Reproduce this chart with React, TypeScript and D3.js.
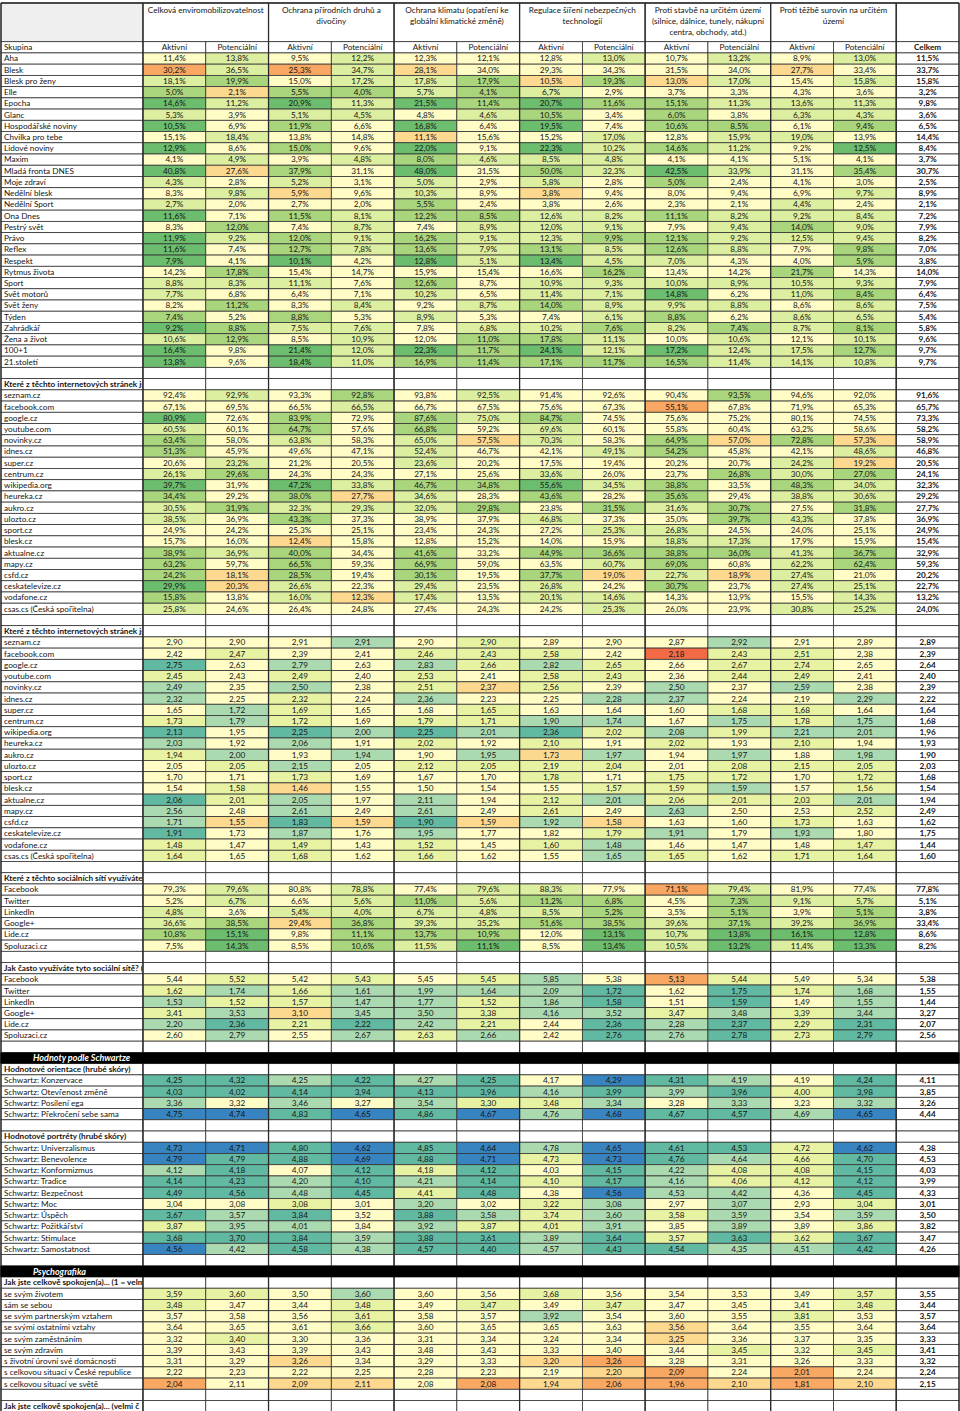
import React from "react";
import * as d3 from "d3";

// ---------- header texts ----------
const groupTitles: string[][] = [
  ["Celková enviromobilizovatelnost"],
  ["Ochrana přírodních druhů a", "divočiny"],
  ["Ochrana klimatu (opatření ke", "globální klimatické změně)"],
  ["Regulace šíření nebezpečných", "technologií"],
  ["Proti stavbě na určitém území", "(silnice, dálnice, tunely, nákupní", "centra, obchody, atd.)"],
  ["Proti těžbě surovin na určitém", "území"],
];
const subHeaders = ["Aktivní", "Potenciální"];
const totalHeader = "Celkem";
const firstHeader = "Skupina";

// ---------- magazines (% ) ----------
const magazineLabels = ["Aha", "Blesk", "Blesk pro ženy", "Elle", "Epocha", "Glanc", "Hospodářské noviny", "Chvilka pro tebe", "Lidové noviny", "Maxim", "Mladá fronta DNES", "Moje zdraví", "Nedělní blesk", "Nedělní Sport", "Ona Dnes", "Pestrý svět", "Právo", "Reflex", "Respekt", "Rytmus života", "Sport", "Svět motorů", "Svět ženy", "Týden", "Zahrádkář", "Žena a život", "100+1", "21.století"];
const magazineValues = [
  [11.4, 13.8, 9.5, 12.2, 12.3, 12.1, 12.8, 13.0, 10.7, 13.2, 8.9, 13.0],
  [30.2, 36.5, 25.3, 34.7, 28.1, 34.0, 29.3, 34.3, 31.5, 34.0, 27.7, 33.4],
  [18.1, 19.9, 15.0, 17.2, 17.8, 17.9, 10.5, 19.3, 13.0, 17.0, 15.4, 15.8],
  [5.0, 2.1, 5.5, 4.0, 5.7, 4.1, 6.7, 2.9, 3.7, 3.3, 4.3, 3.6],
  [14.6, 11.2, 20.9, 11.3, 21.5, 11.4, 20.7, 11.6, 15.1, 11.3, 13.6, 11.3],
  [5.3, 3.9, 5.1, 4.5, 4.8, 4.6, 10.5, 3.4, 6.0, 3.8, 6.3, 4.3],
  [10.5, 6.9, 11.9, 6.6, 16.8, 6.4, 19.5, 7.4, 10.6, 8.5, 6.1, 9.4],
  [15.1, 18.4, 13.8, 14.8, 11.1, 15.6, 15.2, 17.0, 12.8, 15.9, 19.0, 13.9],
  [12.9, 8.6, 15.0, 9.6, 22.0, 9.1, 22.3, 10.2, 14.6, 11.2, 9.2, 12.5],
  [4.1, 4.9, 3.9, 4.8, 8.0, 4.6, 8.5, 4.8, 4.1, 4.1, 5.1, 4.1],
  [40.8, 27.6, 37.9, 31.1, 48.0, 31.5, 50.0, 32.3, 42.5, 33.9, 31.1, 35.4],
  [4.3, 2.8, 5.2, 3.1, 5.0, 2.9, 5.8, 2.8, 5.0, 2.4, 4.1, 3.0],
  [8.3, 9.8, 5.9, 9.6, 10.3, 8.9, 3.8, 9.4, 8.0, 9.4, 6.9, 9.7],
  [2.7, 2.0, 2.7, 2.0, 5.5, 2.4, 3.8, 2.6, 2.3, 2.1, 4.4, 2.4],
  [11.6, 7.1, 11.5, 8.1, 12.2, 8.5, 12.6, 8.2, 11.1, 8.2, 9.2, 8.4],
  [8.3, 12.0, 7.4, 8.7, 7.4, 8.9, 12.0, 9.1, 7.9, 9.4, 14.0, 9.0],
  [11.9, 9.2, 12.0, 9.1, 16.2, 9.1, 12.3, 9.9, 12.1, 9.2, 12.5, 9.4],
  [11.6, 7.4, 12.7, 7.8, 13.6, 7.9, 13.1, 8.5, 12.6, 8.8, 7.9, 9.8],
  [7.9, 4.1, 10.1, 4.2, 12.8, 5.1, 13.4, 4.5, 7.0, 4.3, 4.0, 5.9],
  [14.2, 17.8, 15.4, 14.7, 15.9, 15.4, 16.6, 16.2, 13.4, 14.2, 21.7, 14.3],
  [8.8, 8.3, 11.1, 7.6, 12.6, 8.7, 10.9, 9.3, 10.0, 8.9, 10.5, 9.3],
  [7.7, 6.8, 6.4, 7.1, 10.2, 6.5, 11.4, 7.1, 14.8, 6.2, 11.0, 8.4],
  [8.2, 11.2, 8.3, 8.4, 9.2, 8.7, 14.0, 8.9, 9.9, 8.8, 8.6, 8.6],
  [7.4, 5.2, 8.8, 5.3, 8.9, 5.3, 7.4, 6.1, 8.8, 6.2, 8.6, 6.5],
  [9.2, 8.8, 7.5, 7.6, 7.8, 6.8, 10.2, 7.6, 8.2, 7.4, 8.7, 8.1],
  [10.6, 12.9, 8.5, 10.9, 12.0, 11.0, 17.8, 11.1, 10.0, 10.6, 12.1, 10.1],
  [16.4, 9.8, 21.4, 12.0, 22.3, 11.7, 24.1, 12.1, 17.2, 12.4, 17.5, 12.7],
  [13.8, 9.6, 18.4, 11.0, 16.9, 11.4, 17.1, 11.7, 16.5, 11.4, 14.1, 10.8],
];
const magazineTotals = [11.5, 33.7, 15.8, 3.2, 9.8, 3.6, 6.5, 14.4, 8.4, 3.7, 30.7, 2.5, 8.9, 2.1, 7.2, 7.9, 8.2, 7.0, 3.8, 14.0, 7.9, 6.4, 7.5, 5.4, 5.8, 9.6, 9.7, 9.7];
// signed deviation grade vs. Celkem (drives the cell colour)
const magazineSignificance = [
  [0, 1, 0, 1, 0, 0, 0, 1, 0, 1, 0, 1],
  [-2, 1, -2, 1, -1, 0, 0, 0, 0, 0, -1, 0],
  [1, 2, 0, 1, 1, 2, -1, 2, -1, 1, 0, 1],
  [2, -1, 2, 2, 1, 2, 1, 0, 0, 0, 0, 0],
  [3, 1, 3, 1, 3, 2, 3, 2, 2, 1, 1, 1],
  [1, 0, 1, 1, 0, 1, 2, 0, 2, 0, 1, 1],
  [3, 0, 2, 0, 3, 0, 3, 0, 2, 2, 0, 2],
  [0, 1, 0, 0, -1, 0, 0, 1, 0, 1, 1, 0],
  [3, 0, 2, 0, 3, 0, 3, 1, 2, 1, 0, 3],
  [0, 1, 0, 1, 2, 1, 1, 1, 0, 0, 0, 0],
  [3, -1, 2, 0, 3, 0, 2, 1, 3, 1, 0, 2],
  [1, 0, 1, 0, 1, 0, 1, 0, 2, 0, 0, 0],
  [0, 1, -1, 0, 1, 0, -1, 0, 0, 0, 0, 1],
  [1, 0, 0, 0, 2, 0, 0, 0, 0, 0, 1, 0],
  [3, 0, 2, 1, 2, 2, 1, 1, 2, 1, 1, 1],
  [0, 2, 0, 1, 0, 1, 1, 1, 0, 1, 2, 1],
  [3, 1, 2, 1, 2, 1, 1, 2, 2, 1, 1, 1],
  [3, 0, 2, 1, 2, 1, 2, 1, 2, 1, 0, 2],
  [3, 0, 3, 0, 3, 1, 3, 1, 1, 0, 0, 2],
  [0, 2, 0, 0, 0, 0, 0, 2, 0, 0, 2, 0],
  [1, 1, 1, 0, 2, 0, 1, 1, 1, 1, 1, 1],
  [1, 0, 0, 0, 1, 0, 1, 1, 3, 0, 1, 2],
  [0, 2, 0, 1, 0, 1, 2, 1, 1, 1, 0, 1],
  [2, 0, 2, 0, 1, 0, 0, 1, 2, 0, 1, 1],
  [3, 2, 1, 1, 0, 1, 1, 2, 1, 2, 1, 2],
  [1, 2, 0, 1, 0, 2, 2, 1, 0, 1, 0, 1],
  [3, 0, 3, 1, 3, 2, 3, 1, 3, 1, 1, 2],
  [3, 0, 3, 1, 2, 2, 2, 2, 2, 1, 1, 1],
];

// ---------- websites ----------
const siteLabels = ["seznam.cz", "facebook.com", "google.cz", "youtube.com", "novinky.cz", "idnes.cz", "super.cz", "centrum.cz", "wikipedia.org", "heureka.cz", "aukro.cz", "ulozto.cz", "sport.cz", "blesk.cz", "aktualne.cz", "mapy.cz", "csfd.cz", "ceskatelevize.cz", "vodafone.cz", "csas.cs (Česká spořitelna)"];
const siteVisitValues = [
  [92.4, 92.9, 93.3, 92.8, 93.8, 92.5, 91.4, 92.6, 90.4, 93.5, 94.6, 92.0],
  [67.1, 69.5, 66.5, 66.5, 66.7, 67.5, 75.6, 67.3, 55.1, 67.8, 71.9, 65.3],
  [80.9, 72.6, 83.9, 72.9, 87.6, 75.0, 84.7, 74.5, 75.6, 75.2, 80.1, 74.5],
  [60.5, 60.1, 64.7, 57.6, 66.8, 59.2, 69.6, 60.1, 55.8, 60.4, 63.2, 58.6],
  [63.4, 58.0, 63.8, 58.3, 65.0, 57.5, 70.3, 58.3, 64.9, 57.0, 72.8, 57.3],
  [51.3, 45.9, 49.6, 47.1, 52.4, 46.7, 42.1, 49.1, 54.2, 45.8, 42.1, 48.6],
  [20.6, 23.2, 21.2, 20.5, 23.6, 20.2, 17.5, 19.4, 20.2, 20.7, 24.2, 19.2],
  [26.1, 29.6, 24.3, 24.3, 27.1, 25.6, 33.6, 26.0, 23.7, 26.8, 30.0, 27.0],
  [39.7, 31.9, 47.2, 33.8, 46.7, 34.8, 55.6, 34.5, 38.8, 33.5, 48.3, 34.0],
  [34.4, 29.2, 38.0, 27.7, 34.6, 28.3, 43.6, 28.2, 35.6, 29.4, 38.8, 30.6],
  [30.5, 31.9, 32.3, 29.3, 32.0, 29.8, 23.8, 31.5, 31.6, 30.7, 27.5, 31.8],
  [38.5, 36.9, 43.3, 37.3, 38.9, 37.9, 46.8, 37.3, 35.0, 39.7, 43.3, 37.8],
  [24.9, 24.2, 25.3, 25.1, 23.4, 24.3, 27.2, 25.3, 26.8, 24.5, 24.0, 25.1],
  [15.7, 16.0, 12.4, 15.8, 12.8, 15.2, 14.0, 15.9, 18.8, 17.3, 17.9, 15.9],
  [38.9, 36.9, 40.0, 34.4, 41.6, 33.2, 44.9, 36.6, 38.8, 36.0, 41.3, 36.7],
  [63.2, 59.7, 66.5, 59.3, 66.9, 59.0, 63.5, 60.7, 69.0, 60.8, 62.2, 62.4],
  [24.2, 18.1, 28.5, 19.4, 30.1, 19.5, 37.7, 19.0, 22.7, 18.9, 27.4, 21.0],
  [29.9, 20.3, 26.6, 22.3, 29.4, 23.5, 26.8, 24.2, 30.7, 23.7, 27.4, 25.1],
  [15.8, 13.8, 16.0, 12.3, 17.4, 13.5, 20.1, 14.6, 14.3, 13.9, 15.5, 14.3],
  [25.8, 24.6, 26.4, 24.8, 27.4, 24.3, 24.2, 25.3, 26.0, 23.9, 30.8, 25.2],
];
const siteVisitTotals = [91.6, 65.7, 73.3, 58.2, 58.9, 46.8, 20.5, 24.1, 32.3, 29.2, 27.7, 36.9, 24.9, 15.4, 32.9, 59.3, 20.2, 22.7, 13.2, 24.0];
const siteVisitSignificance = [
  [0, 1, 0, 2, 0, 1, 0, 0, 0, 2, 0, 0],
  [0, 0, 0, 1, 0, 0, 0, 0, -2, 0, 0, 0],
  [3, 0, 2, 0, 2, 1, 2, 0, 0, 0, 0, 0],
  [1, 0, 2, 0, 2, 0, 1, 0, 0, 0, 0, 0],
  [2, 0, 1, 0, 1, -1, 1, 0, 2, -1, 2, -1],
  [2, 0, 0, 0, 1, 0, 0, 1, 2, 0, 0, 1],
  [0, 1, 0, 0, 1, 0, 0, 0, 0, 0, 1, -1],
  [1, 2, 0, 0, 0, 0, 1, 0, 0, 2, 1, 2],
  [3, 0, 3, 1, 2, 2, 3, 1, 2, 0, 2, 1],
  [2, 0, 2, -1, 1, 0, 2, 0, 2, 0, 1, 1],
  [1, 2, 1, 1, 1, 2, 0, 2, 1, 2, 0, 2],
  [1, 0, 2, 0, 0, 0, 1, 0, 0, 2, 1, 0],
  [0, 0, 0, 0, 0, 0, 0, 1, 1, 0, 0, 0],
  [0, 0, -1, 0, 0, 0, 0, 0, 1, 1, 0, 0],
  [2, 1, 2, 0, 2, 0, 2, 2, 2, 2, 1, 2],
  [2, 0, 2, 0, 2, 0, 0, 1, 2, 0, 1, 2],
  [2, -1, 2, 0, 2, 0, 2, -1, 1, -1, 1, 0],
  [3, -1, 1, 0, 1, 0, 1, 0, 2, 0, 1, 1],
  [2, 0, 1, -1, 1, 0, 1, 1, 0, 0, 0, 1],
  [1, 0, 0, 0, 0, 0, 0, 1, 0, 0, 1, 1],
];
const siteScoreValues = [
  [2.90, 2.90, 2.91, 2.91, 2.90, 2.90, 2.89, 2.90, 2.87, 2.92, 2.91, 2.89],
  [2.42, 2.47, 2.39, 2.41, 2.46, 2.43, 2.58, 2.42, 2.18, 2.43, 2.51, 2.38],
  [2.75, 2.63, 2.79, 2.63, 2.83, 2.66, 2.82, 2.65, 2.66, 2.67, 2.74, 2.65],
  [2.45, 2.43, 2.49, 2.40, 2.53, 2.41, 2.58, 2.43, 2.36, 2.44, 2.49, 2.41],
  [2.49, 2.35, 2.50, 2.38, 2.51, 2.37, 2.56, 2.39, 2.50, 2.37, 2.59, 2.38],
  [2.32, 2.25, 2.32, 2.24, 2.36, 2.23, 2.25, 2.28, 2.37, 2.24, 2.19, 2.29],
  [1.65, 1.72, 1.69, 1.65, 1.68, 1.65, 1.63, 1.64, 1.60, 1.68, 1.68, 1.64],
  [1.73, 1.79, 1.72, 1.69, 1.79, 1.71, 1.90, 1.74, 1.67, 1.75, 1.78, 1.75],
  [2.13, 1.95, 2.25, 2.00, 2.25, 2.01, 2.36, 2.02, 2.08, 1.99, 2.21, 2.01],
  [2.03, 1.92, 2.06, 1.91, 2.02, 1.92, 2.10, 1.91, 2.02, 1.93, 2.10, 1.94],
  [1.94, 2.00, 1.93, 1.94, 1.90, 1.95, 1.73, 1.97, 1.94, 1.97, 1.88, 1.98],
  [2.05, 2.05, 2.15, 2.05, 2.12, 2.05, 2.19, 2.04, 2.01, 2.08, 2.15, 2.05],
  [1.70, 1.71, 1.73, 1.69, 1.67, 1.70, 1.78, 1.71, 1.75, 1.72, 1.70, 1.72],
  [1.54, 1.58, 1.46, 1.55, 1.50, 1.54, 1.55, 1.57, 1.59, 1.59, 1.57, 1.56],
  [2.06, 2.01, 2.05, 1.97, 2.11, 1.94, 2.12, 2.01, 2.06, 2.01, 2.03, 2.01],
  [2.56, 2.48, 2.61, 2.49, 2.61, 2.49, 2.61, 2.49, 2.63, 2.50, 2.53, 2.52],
  [1.71, 1.55, 1.83, 1.59, 1.90, 1.59, 1.92, 1.58, 1.63, 1.60, 1.73, 1.63],
  [1.91, 1.73, 1.87, 1.76, 1.95, 1.77, 1.82, 1.79, 1.91, 1.79, 1.93, 1.80],
  [1.48, 1.47, 1.49, 1.43, 1.52, 1.45, 1.60, 1.48, 1.46, 1.47, 1.48, 1.47],
  [1.64, 1.65, 1.68, 1.62, 1.66, 1.62, 1.55, 1.65, 1.65, 1.62, 1.71, 1.64],
];
const siteScoreTotals = [2.89, 2.39, 2.64, 2.40, 2.39, 2.22, 1.64, 1.68, 1.96, 1.93, 1.90, 2.03, 1.68, 1.54, 1.94, 2.49, 1.62, 1.75, 1.44, 1.60];
const siteScoreSignificance = [
  [0, 0, 0, 2, 0, 1, 0, 0, 0, 2, 0, 0],
  [0, 1, 0, 0, 1, 1, 1, 0, -3, 1, 1, 0],
  [3, 0, 2, 0, 2, 1, 2, 1, 0, 1, 1, 0],
  [1, 0, 1, 0, 1, 0, 1, 1, 0, 1, 1, 0],
  [2, 0, 2, 0, 1, -1, 1, 0, 2, 0, 2, 0],
  [2, 0, 1, 0, 2, 0, 0, 2, 2, 0, 0, 2],
  [0, 2, 1, 0, 0, 1, 0, 0, 0, 1, 1, 0],
  [1, 2, 1, 0, 1, 1, 2, 2, 0, 2, 1, 2],
  [3, 0, 3, 2, 3, 2, 3, 1, 2, 1, 2, 2],
  [2, 0, 2, 0, 1, 0, 1, 0, 1, 0, 1, 0],
  [1, 2, 0, 2, 0, 2, -1, 2, 0, 2, 0, 2],
  [0, 1, 2, 0, 1, 1, 1, 1, 0, 1, 1, 1],
  [0, 0, 1, 0, 0, 0, 1, 0, 1, 1, 0, 1],
  [0, 1, -1, 0, 0, 0, 0, 1, 1, 2, 0, 1],
  [3, 1, 2, 0, 2, 0, 1, 2, 1, 1, 1, 2],
  [2, 0, 2, 0, 2, 0, 1, 0, 2, 0, 0, 1],
  [2, -1, 3, -1, 3, -1, 2, -1, 0, 0, 1, 0],
  [3, 0, 2, 0, 2, 0, 0, 1, 2, 0, 2, 0],
  [1, 0, 1, 0, 1, 0, 1, 2, 0, 0, 0, 1],
  [1, 0, 1, 0, 1, 0, 0, 2, 1, 0, 1, 1],
];

// ---------- social networks ----------
const socialLabels = ["Facebook", "Twitter", "LinkedIn", "Google+", "Lide.cz", "Spoluzaci.cz"];
const socialUseValues = [
  [79.3, 79.6, 80.8, 78.8, 77.4, 79.6, 88.3, 77.9, 71.1, 79.4, 81.9, 77.4],
  [5.2, 6.7, 6.6, 5.6, 11.0, 5.6, 11.2, 6.8, 4.5, 7.3, 9.1, 5.7],
  [4.8, 3.6, 5.4, 4.0, 6.7, 4.8, 8.5, 5.2, 3.5, 5.1, 3.9, 5.1],
  [36.6, 38.5, 29.4, 36.8, 39.3, 35.2, 51.6, 38.5, 39.6, 37.1, 39.2, 36.9],
  [10.8, 15.1, 9.8, 11.1, 13.7, 10.9, 12.0, 13.1, 10.7, 13.8, 16.1, 12.8],
  [7.5, 14.3, 8.5, 10.6, 11.5, 11.1, 8.5, 13.4, 10.5, 13.2, 11.4, 13.3],
];
const socialUseTotals = [77.8, 5.1, 3.8, 33.4, 8.6, 8.2];
const socialUseSignificance = [
  [0, 1, 0, 1, 0, 1, 1, 0, -2, 1, 0, 0],
  [0, 1, 0, 1, 2, 1, 2, 2, 0, 2, 1, 1],
  [1, 0, 1, 1, 1, 1, 1, 2, 0, 2, 0, 2],
  [1, 2, -1, 2, 1, 1, 2, 2, 1, 2, 1, 2],
  [2, 3, 0, 2, 2, 2, 0, 3, 1, 3, 3, 3],
  [0, 3, 0, 2, 1, 3, 0, 3, 1, 3, 1, 3],
];
const socialFreqValues = [
  [5.44, 5.52, 5.42, 5.43, 5.45, 5.45, 5.85, 5.38, 5.13, 5.44, 5.49, 5.34],
  [1.62, 1.74, 1.66, 1.61, 1.99, 1.64, 2.09, 1.72, 1.62, 1.75, 1.74, 1.68],
  [1.53, 1.52, 1.57, 1.47, 1.77, 1.52, 1.86, 1.58, 1.51, 1.59, 1.49, 1.55],
  [3.41, 3.53, 3.10, 3.45, 3.50, 3.38, 4.16, 3.52, 3.47, 3.48, 3.39, 3.44],
  [2.20, 2.36, 2.21, 2.22, 2.42, 2.21, 2.44, 2.36, 2.28, 2.37, 2.29, 2.31],
  [2.60, 2.79, 2.55, 2.67, 2.63, 2.66, 2.42, 2.76, 2.76, 2.78, 2.73, 2.79],
];
const socialFreqTotals = [5.38, 1.55, 1.44, 3.27, 2.07, 2.56];
const socialFreqSignificance = [
  [0, 1, 0, 1, 0, 1, 2, 0, -2, 1, 0, 0],
  [1, 2, 1, 2, 2, 2, 2, 3, 0, 3, 1, 2],
  [2, 1, 1, 2, 2, 1, 2, 3, 0, 3, 0, 2],
  [1, 2, -1, 2, 2, 1, 2, 2, 1, 2, 1, 2],
  [2, 3, 1, 3, 2, 1, 0, 3, 2, 3, 1, 3],
  [0, 2, 0, 2, 1, 2, 0, 3, 2, 3, 1, 3],
];

// ---------- Schwartz ----------
const orientationLabels = ["Schwartz: Konzervace", "Schwartz: Otevřenost změně", "Schwartz: Posílení ega", "Schwartz: Překročení sebe sama"];
const orientationValues = [
  [4.25, 4.32, 4.25, 4.22, 4.27, 4.25, 4.17, 4.29, 4.31, 4.19, 4.19, 4.24],
  [4.03, 4.02, 4.14, 3.94, 4.13, 3.96, 4.16, 3.99, 3.99, 3.96, 4.00, 3.98],
  [3.36, 3.32, 3.46, 3.27, 3.54, 3.30, 3.48, 3.34, 3.28, 3.33, 3.23, 3.32],
  [4.75, 4.74, 4.83, 4.65, 4.86, 4.67, 4.76, 4.68, 4.67, 4.57, 4.69, 4.65],
];
const orientationTotals = [4.11, 3.85, 3.26, 4.44];
const orientationSignificance = [
  [3, 3, 2, 3, 2, 3, 0, 4, 3, 2, 0, 3],
  [3, 3, 3, 3, 3, 3, 2, 3, 2, 3, 1, 3],
  [2, 0, 2, 0, 2, 1, 1, 2, 0, 2, 0, 2],
  [4, 4, 3, 4, 3, 4, 2, 4, 3, 3, 2, 4],
];
const portraitLabels = ["Schwartz: Univerzalismus", "Schwartz: Benevolence", "Schwartz: Konformizmus", "Schwartz: Tradice", "Schwartz: Bezpečnost", "Schwartz: Moc", "Schwartz: Úspěch", "Schwartz: Požitkářství", "Schwartz: Stimulace", "Schwartz: Samostatnost"];
const portraitValues = [
  [4.73, 4.71, 4.80, 4.62, 4.85, 4.64, 4.78, 4.65, 4.61, 4.53, 4.72, 4.62],
  [4.79, 4.79, 4.88, 4.69, 4.88, 4.71, 4.73, 4.73, 4.76, 4.64, 4.66, 4.70],
  [4.12, 4.18, 4.07, 4.12, 4.18, 4.12, 4.03, 4.15, 4.22, 4.08, 4.08, 4.15],
  [4.14, 4.23, 4.20, 4.10, 4.21, 4.14, 4.10, 4.17, 4.16, 4.06, 4.12, 4.12],
  [4.49, 4.56, 4.48, 4.45, 4.41, 4.48, 4.38, 4.56, 4.53, 4.42, 4.36, 4.45],
  [3.04, 3.08, 3.08, 3.01, 3.20, 3.02, 3.22, 3.08, 2.97, 3.07, 2.93, 3.04],
  [3.67, 3.57, 3.84, 3.52, 3.88, 3.58, 3.74, 3.60, 3.58, 3.59, 3.54, 3.59],
  [3.87, 3.95, 4.01, 3.84, 3.92, 3.87, 4.01, 3.91, 3.85, 3.89, 3.89, 3.86],
  [3.68, 3.70, 3.84, 3.59, 3.88, 3.61, 3.89, 3.64, 3.57, 3.63, 3.62, 3.67],
  [4.56, 4.42, 4.58, 4.38, 4.57, 4.40, 4.57, 4.43, 4.54, 4.35, 4.51, 4.42],
];
const portraitTotals = [4.38, 4.53, 4.03, 3.99, 4.33, 3.01, 3.50, 3.82, 3.47, 4.26];
const portraitSignificance = [
  [4, 4, 3, 4, 3, 4, 2, 4, 3, 3, 1, 4],
  [4, 3, 3, 4, 3, 4, 1, 4, 3, 2, 1, 3],
  [2, 3, 0, 3, 1, 3, 0, 3, 2, 1, 1, 3],
  [3, 3, 2, 3, 2, 3, 1, 3, 2, 1, 1, 3],
  [3, 3, 2, 3, 1, 3, 0, 4, 2, 2, 0, 3],
  [0, 0, 1, 0, 2, 0, 1, 2, 0, 2, 0, 1],
  [3, 2, 3, 0, 3, 2, 1, 2, 1, 2, 0, 2],
  [1, 2, 2, 0, 2, 1, 1, 2, 0, 2, 0, 1],
  [3, 3, 3, 2, 3, 3, 2, 3, 1, 3, 1, 3],
  [4, 2, 3, 2, 3, 3, 2, 3, 3, 2, 2, 3],
];

// ---------- Psychografika ----------
const satisfactionLabels = ["se svým životem", "sám se sebou", "se svým partnerským vztahem", "se svými ostatními vztahy", "se svým zaměstnáním", "se svým zdravím", "s životní úrovní své domácnosti", "s celkovou situací v České republice", "s celkovou situací ve světě"];
const satisfactionValues = [
  [3.59, 3.60, 3.50, 3.60, 3.60, 3.56, 3.68, 3.56, 3.54, 3.53, 3.49, 3.57],
  [3.48, 3.47, 3.44, 3.48, 3.49, 3.47, 3.49, 3.47, 3.47, 3.45, 3.41, 3.48],
  [3.57, 3.58, 3.56, 3.61, 3.58, 3.57, 3.92, 3.54, 3.60, 3.55, 3.81, 3.53],
  [3.64, 3.65, 3.61, 3.66, 3.60, 3.65, 3.65, 3.63, 3.56, 3.64, 3.55, 3.64],
  [3.32, 3.40, 3.30, 3.36, 3.31, 3.34, 3.24, 3.34, 3.25, 3.36, 3.37, 3.35],
  [3.39, 3.43, 3.39, 3.43, 3.48, 3.43, 3.33, 3.40, 3.44, 3.45, 3.32, 3.45],
  [3.31, 3.29, 3.26, 3.34, 3.29, 3.33, 3.20, 3.26, 3.28, 3.31, 3.26, 3.33],
  [2.22, 2.23, 2.22, 2.25, 2.28, 2.23, 2.19, 2.20, 2.09, 2.24, 2.01, 2.24],
  [2.04, 2.11, 2.09, 2.11, 2.08, 2.08, 1.94, 2.06, 1.96, 2.10, 1.81, 2.10],
];
const satisfactionTotals = [3.55, 3.44, 3.57, 3.64, 3.33, 3.41, 3.32, 2.24, 2.15];
const satisfactionSignificance = [
  [1, 1, 0, 2, 0, 0, 1, 0, 0, 0, 0, 1],
  [1, 0, 0, 1, 0, 1, 0, 1, 0, 0, 0, 1],
  [0, 0, 0, 1, 0, 0, 2, 0, 0, 0, 1, 0],
  [0, 0, 0, 1, 0, 0, 0, 0, -1, 0, 0, 0],
  [0, 1, 0, 0, 0, 0, 0, 0, -1, 0, 0, 0],
  [0, 0, 0, 0, 0, 0, 0, 0, 0, 1, 0, 1],
  [0, 0, -1, 0, 0, 0, -1, -2, 0, 0, 0, 0],
  [0, 0, 0, 0, 0, 0, 0, -1, -2, 0, -2, 0],
  [-2, 0, -1, -1, 0, -2, -1, -2, -2, -1, -2, -1],
];

const sectionTitles = {
  sitesVisit: "Které z těchto internetových stránek js",
  sitesScore: "Které z těchto internetových stránek js",
  socialUse: "Které z těchto sociálních sítí využíváte",
  socialFreq: "Jak často využíváte tyto sociální sítě? (",
  schwartzBar: "Hodnoty podle Schwartze",
  orientation: "Hodnotové orientace (hrubé skóry)",
  portrait: "Hodnotové portréty (hrubé skóry)",
  psychoBar: "Psychografika",
  satisfaction: "Jak jste celkově spokojen(a)... (1 = velm",
  satisfaction2: "Jak jste celkově spokojen(a)... (velmi č",
};

type Row =
  | { type: "colhead" }
  | { type: "blank" }
  | { type: "section"; text: string }
  | { type: "bar"; text: string }
  | { type: "data"; label: string; values: number[]; total: number; sig: number[]; kind: "pct" | "score"; pal: "A" | "B" };

const locale = d3.formatLocale({ decimal: ",", thousands: " ", grouping: [3], currency: ["", " Kč"] });
const f1 = locale.format(".1f");
const f2 = locale.format(".2f");

function buildRows(): Row[] {
  const rows: Row[] = [{ type: "colhead" }];
  const add = (labels: string[], vals: number[][], tots: number[], sig: number[][], kind: "pct" | "score", pal: "A" | "B") =>
    labels.forEach((label, i) => rows.push({ type: "data", label, values: vals[i], total: tots[i], sig: sig[i], kind, pal }));
  add(magazineLabels, magazineValues, magazineTotals, magazineSignificance, "pct", "A");
  rows.push({ type: "blank" }, { type: "section", text: sectionTitles.sitesVisit });
  add(siteLabels, siteVisitValues, siteVisitTotals, siteVisitSignificance, "pct", "A");
  rows.push({ type: "blank" }, { type: "section", text: sectionTitles.sitesScore });
  add(siteLabels, siteScoreValues, siteScoreTotals, siteScoreSignificance, "score", "B");
  rows.push({ type: "blank" }, { type: "section", text: sectionTitles.socialUse });
  add(socialLabels, socialUseValues, socialUseTotals, socialUseSignificance, "pct", "A");
  rows.push({ type: "blank" }, { type: "section", text: sectionTitles.socialFreq });
  add(socialLabels, socialFreqValues, socialFreqTotals, socialFreqSignificance, "score", "B");
  rows.push({ type: "blank" }, { type: "bar", text: sectionTitles.schwartzBar }, { type: "section", text: sectionTitles.orientation });
  add(orientationLabels, orientationValues, orientationTotals, orientationSignificance, "score", "B");
  rows.push({ type: "blank" }, { type: "section", text: sectionTitles.portrait });
  add(portraitLabels, portraitValues, portraitTotals, portraitSignificance, "score", "B");
  rows.push({ type: "blank" }, { type: "bar", text: sectionTitles.psychoBar }, { type: "section", text: sectionTitles.satisfaction });
  add(satisfactionLabels, satisfactionValues, satisfactionTotals, satisfactionSignificance, "score", "B");
  rows.push({ type: "blank" }, { type: "section", text: sectionTitles.satisfaction2 });
  return rows;
}

export default function App() {
  const W = 960, H = 1411;
  const tableLeft = 1, labelRight = 143, tableRight = 959;
  const headTop = 3, headBottom = 41.7, rowH = 11.23;
  const nCols = 13;
  const colX = d3.scaleLinear().domain([0, nCols]).range([labelRight, tableRight]);
  const rowY = d3.scaleLinear().domain([0, 1]).range([headBottom, headBottom + rowH]);
  const palA = d3.scaleOrdinal<number, string>().domain([-2, -1, 0, 1, 2, 3]).range(["#f8a862", "#fdd98f", "#fffcc6", "#dcee9f", "#a9d67c", "#6cbd6e"]);
  const palB = d3.scaleOrdinal<number, string>().domain([-3, -2, -1, 0, 1, 2, 3, 4]).range(["#f26b46", "#f8a862", "#fdd98f", "#fffcc6", "#e7f2a3", "#abdab1", "#62b9a2", "#3884c0"]);
  const rows = buildRows();
  const stroke = "#333";
  const font = "Lato, 'Open Sans', sans-serif";
  const fs = 8.2;
  const textFill = "#151515";

  const cells: React.ReactNode[] = [];
  rows.forEach((r, i) => {
    const y0 = rowY(i), y1 = rowY(i + 1), h = y1 - y0, ty = y0 + h / 2 + fs * 0.35;
    if (r.type === "bar") return;
    cells.push(<rect key={`l${i}`} x={tableLeft} y={y0} width={labelRight - tableLeft} height={h} fill="#fff" stroke={stroke} strokeWidth={0.8} />);
    for (let j = 0; j < nCols; j++) {
      let fill = "#fff";
      if (r.type === "data" && j < 12) fill = (r.pal === "A" ? palA : palB)(r.sig[j]);
      cells.push(<rect key={`c${i}_${j}`} x={colX(j)} y={y0} width={colX(j + 1) - colX(j)} height={h} fill={fill} stroke={stroke} strokeWidth={0.8} />);
    }
    if (r.type === "colhead") {
      cells.push(<text key={`t${i}`} x={4} y={ty} fontSize={fs} fontFamily={font} fill={textFill}>{firstHeader}</text>);
      for (let j = 0; j < 12; j++) {
        cells.push(<text key={`h${i}_${j}`} x={(colX(j) + colX(j + 1)) / 2} y={ty} textAnchor="middle" fontSize={fs} fontFamily={font} fill={textFill}>{subHeaders[j % 2]}</text>);
      }
      cells.push(<text key={`hc${i}`} x={(colX(12) + colX(13)) / 2} y={ty} textAnchor="middle" fontSize={fs} fontWeight="bold" fontFamily={font} fill={textFill}>{totalHeader}</text>);
    } else if (r.type === "section") {
      cells.push(<text key={`t${i}`} x={4} y={ty} fontSize={fs} fontWeight="bold" fontFamily={font} fill={textFill} clipPath="url(#labelClip)">{r.text}</text>);
    } else if (r.type === "data") {
      const fmt = r.kind === "pct" ? (v: number) => f1(v) + "%" : (v: number) => f2(v);
      cells.push(<text key={`t${i}`} x={4} y={ty} fontSize={fs} fontFamily={font} fill={textFill} clipPath="url(#labelClip)">{r.label}</text>);
      r.values.forEach((v, j) => {
        cells.push(<text key={`v${i}_${j}`} x={(colX(j) + colX(j + 1)) / 2} y={ty} textAnchor="middle" fontSize={fs} fontFamily={font} fill={textFill}>{fmt(v)}</text>);
      });
      cells.push(<text key={`tot${i}`} x={(colX(12) + colX(13)) / 2} y={ty} textAnchor="middle" fontSize={fs} fontWeight="bold" fontFamily={font} fill={textFill}>{fmt(r.total)}</text>);
    }
  });

  const tableBottom = rowY(rows.length);
  const groupLines = d3.range(0, 13, 2).map((k) => colX(k)).concat([colX(13)]);

  return (
    <svg width={W} height={H} viewBox={`0 0 ${W} ${H}`} style={{ position: "absolute", left: 0, top: 0, background: "#fff" }}>
      <defs>
        <clipPath id="labelClip">
          <rect x={tableLeft} y={0} width={labelRight - tableLeft - 1} height={H} />
        </clipPath>
      </defs>
      {/* header block */}
      <rect x={tableLeft} y={headTop} width={labelRight - tableLeft} height={headBottom - headTop} fill="#efefef" stroke={stroke} strokeWidth={0.8} />
      {groupTitles.map((lines, g) => (
        <g key={`g${g}`}>
          <rect x={colX(2 * g)} y={headTop} width={colX(2 * g + 2) - colX(2 * g)} height={headBottom - headTop} fill="#fff" stroke={stroke} strokeWidth={0.8} />
          {lines.map((ln, k) => (
            <text key={k} x={(colX(2 * g) + colX(2 * g + 2)) / 2} y={headTop + 10.2 + k * 11} textAnchor="middle" fontSize={fs} fontFamily={font} fill={textFill}>{ln}</text>
          ))}
        </g>
      ))}
      <rect x={colX(12)} y={headTop} width={colX(13) - colX(12)} height={headBottom - headTop} fill="#fff" stroke={stroke} strokeWidth={0.8} />
      {cells}
      {groupLines.map((gx, k) => (
        <line key={`gl${k}`} x1={gx} x2={gx} y1={headTop} y2={tableBottom} stroke="#2a2a2a" strokeWidth={1.3} />
      ))}
      <line x1={tableLeft} x2={tableLeft} y1={headTop} y2={tableBottom} stroke="#2a2a2a" strokeWidth={1.3} />
      <line x1={tableLeft} x2={tableRight} y1={headTop} y2={headTop} stroke="#2a2a2a" strokeWidth={1.3} />
      {rows.map((r, i) => r.type === "bar" ? <rect key={`bb${i}`} x={tableLeft - 0.7} y={rowY(i)} width={tableRight - tableLeft + 1.4} height={rowH} fill="#000" /> : null)}
      {rows.map((r, i) => r.type === "bar" ? <text key={`btt${i}`} x={33} y={rowY(i) + rowH / 2 + 3.2} fill="#fff" fontSize={9} fontWeight="bold" fontStyle="italic" fontFamily={font}>{r.text}</text> : null)}
    </svg>
  );
}
